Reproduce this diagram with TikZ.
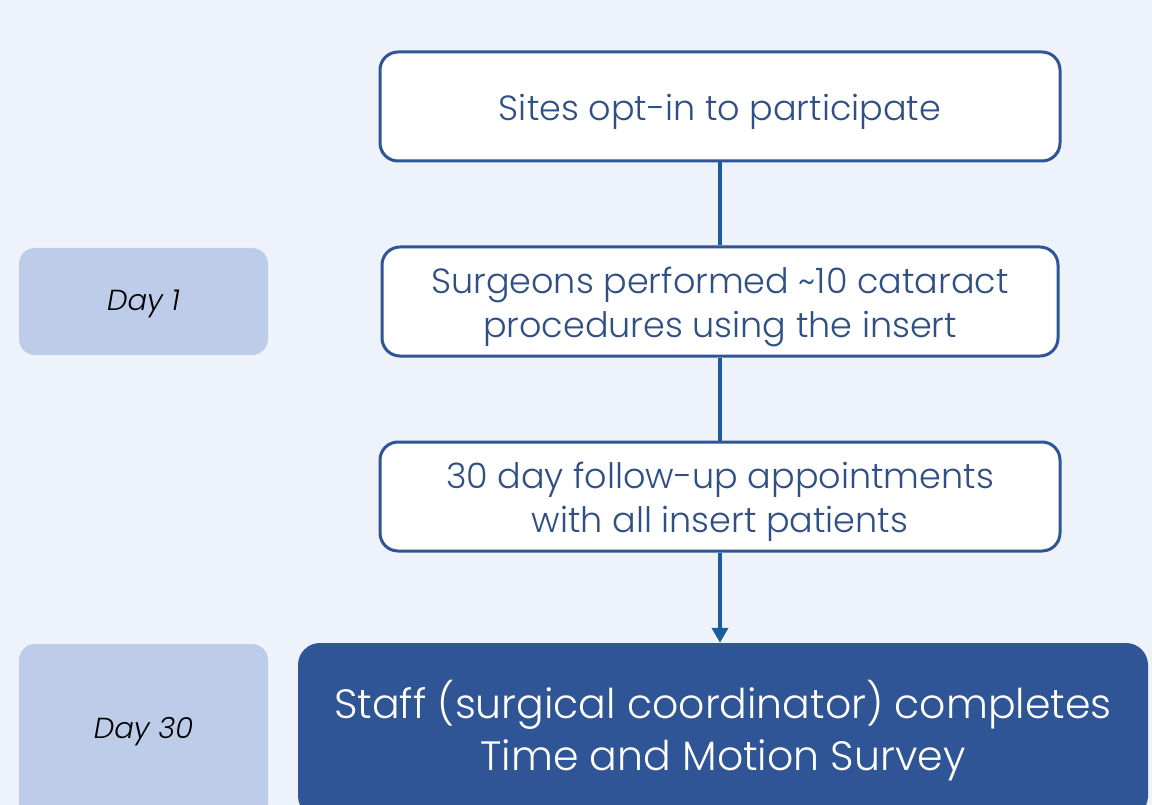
\documentclass[tikz,border=0pt]{standalone}
\usepackage{fontspec}
\setmainfont{Poppins}[UprightFont=* Light, ItalicFont=* Light Italic]
\usetikzlibrary{arrows.meta}
\definecolor{bgcol}{HTML}{EEF3FB}
\definecolor{framecol}{HTML}{2F5597}
\definecolor{textcol}{HTML}{2F4F86}
\definecolor{linecol}{HTML}{1B5C9E}
\definecolor{dayfill}{HTML}{BDCDE9}
% centred lines, drawn a little lower than their box
\newcommand\boxlines[2][-5pt]{\raisebox{#1}[\height][\depth]{\begin{tabular}{@{}c@{}}#2\end{tabular}}}
\tikzset{
  stepbox/.style={draw=framecol, line width=3pt, fill=white, rounded corners=18pt,
    text=textcol, font=\fontsize{35}{44}\selectfont, inner sep=0pt},
  daybox/.style={fill=dayfill, rounded corners=16pt, text=black,
    font=\fontsize{29}{32}\selectfont\itshape, inner sep=0pt},
  finalbox/.style={fill=framecol, rounded corners=22pt, text=white, align=center,
    font=\fontsize{41}{52}\selectfont, inner sep=0pt},
  link/.style={draw=linecol, line width=4pt},
}
\begin{document}
\begin{tikzpicture}[x=1pt,y=-1pt]
  \path[use as bounding box, fill=bgcol] (0,0) rectangle (1152,805);
  \clip (0,0) rectangle (1152,805);
  % flow steps
  \node[stepbox, minimum width=680pt, minimum height=109pt] (s1) at (720,106.5)
    {\boxlines{Sites opt-in to participate}};
  \node[stepbox, minimum width=676pt, minimum height=109pt] (s2) at (720,301.5)
    {\boxlines{Surgeons performed \char`~10 cataract\\procedures using the insert}};
  \node[stepbox, minimum width=680pt, minimum height=109pt] (s3) at (720,496.5)
    {\boxlines{30 day follow-up appointments\\with all insert patients}};
  \node[finalbox, minimum width=850pt, minimum height=175pt] (s4) at (723,730.5)
    {Staff (surgical coordinator) completes\\Time and Motion Survey};
  % timeline markers
  \node[daybox, minimum width=249pt, minimum height=107pt] (d1) at (143.5,301.5)
    {\boxlines[-3pt]{Day 1}};
  \node[daybox, minimum width=249pt, minimum height=175pt] (d30) at (143.5,731.5) {Day 30};
  % connectors
  \draw[link] (s1.south) -- (s2.north);
  \draw[link] (s2.south) -- (s3.north);
  \draw[link, -{Triangle[length=15pt,width=16pt]}] (s3.south) -- (s3.south |- s4.north);
\end{tikzpicture}
\end{document}
